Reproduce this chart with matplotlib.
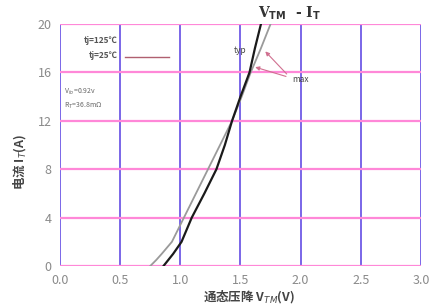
import matplotlib
matplotlib.use("Agg")
import matplotlib.pyplot as plt
import numpy as np

plt.rcParams['font.family'] = ['Noto Sans CJK SC', 'DejaVu Sans']

# Data
v_125 = [0.75, 0.80, 0.845, 0.93, 1.03, 1.13, 1.23, 1.33, 1.43, 1.51, 1.585, 1.67, 1.75]
i_125 = [0.0, 0.5, 1.0, 2.0, 4.0, 6.0, 8.0, 10.0, 12.0, 14.0, 16.0, 18.0, 20.0]
v_25 = [0.86, 0.90, 0.94, 1.01, 1.095, 1.20, 1.30, 1.37, 1.43, 1.50, 1.575, 1.62, 1.67]
i_25 = [0.0, 0.5, 1.0, 2.0, 4.0, 6.0, 8.0, 10.0, 12.0, 14.0, 16.0, 18.0, 20.0]

x_ticks = [0.0, 0.5, 1.0, 1.5, 2.0, 2.5, 3.0]
y_ticks = [0, 4, 8, 12, 16, 20]
legend_labels = ['tj=125\u2103', 'tj=25\u2103']
param_labels = ['V$_{to}$=0.92v', 'R$_T$=36.8m\u03a9']

fig = plt.figure(figsize=(4.36, 3.06), dpi=100)
ax = fig.add_axes([0.1376, 0.1307, 0.828, 0.7909])

for x in x_ticks:
    ax.axvline(x, color='#7a66e8', lw=1.4, zorder=1)
for y in y_ticks:
    ax.axhline(y, color='#ff88d8', lw=1.6, zorder=1)

ax.plot(v_125, i_125, color='#9a9a9a', lw=1.3, zorder=3)
ax.plot(v_25, i_25, color='#1a1a1a', lw=1.6, zorder=4)

ax.set_xlim(0, 3)
ax.set_ylim(0, 20)
ax.set_xticks(x_ticks)
ax.set_xticklabels([f'{x:.1f}' for x in x_ticks])
ax.set_yticks(y_ticks)
ax.tick_params(length=0, labelsize=9, labelcolor='#8a8a8a', pad=6)
for s in ax.spines.values():
    s.set_visible(False)

# legend area
ax.text(0.48, 18.6, legend_labels[0], ha='right', va='center', fontsize=6,
        color='#555555', fontweight='bold')
ax.text(0.48, 17.4, legend_labels[1], ha='right', va='center', fontsize=6,
        color='#555555', fontweight='bold')
ax.plot([0.54, 0.91], [17.3, 17.3], color='#b06070', lw=1.0, zorder=3)
ax.text(0.03, 14.4, param_labels[0], ha='left', va='center', fontsize=5, color='#666666')
ax.text(0.03, 13.2, param_labels[1], ha='left', va='center', fontsize=5, color='#666666')

# annotations
ax.text(1.50, 17.8, 'typ', ha='center', va='center', fontsize=6, color='#444444')
ax.text(2.0, 15.4, 'max', ha='center', va='center', fontsize=6, color='#444444')
ax.annotate('', xy=(1.69, 17.9), xytext=(1.9, 15.7),
            arrowprops=dict(arrowstyle='-|>', color='#d07090', lw=0.8,
                            mutation_scale=6))
ax.annotate('', xy=(1.60, 16.5), xytext=(1.9, 15.6),
            arrowprops=dict(arrowstyle='-|>', color='#d07090', lw=0.8,
                            mutation_scale=6))

fig.text(0.665, 0.955, 'V$_{\\mathbf{TM}}$  - I$_{\\mathbf{T}}$', ha='center', va='center',
         fontsize=10, fontweight='bold', family='DejaVu Serif', color='#333333')
fig.text(0.57, 0.03, '通态压降 V$_{TM}$(V)', ha='center', va='center',
         fontsize=9, color='#444444', fontweight='bold')
fig.text(0.045, 0.47, '电流 I$_T$(A)', ha='center', va='center', rotation=90,
         fontsize=9, color='#444444', fontweight='bold')

fig.savefig('out.png', dpi=100)
